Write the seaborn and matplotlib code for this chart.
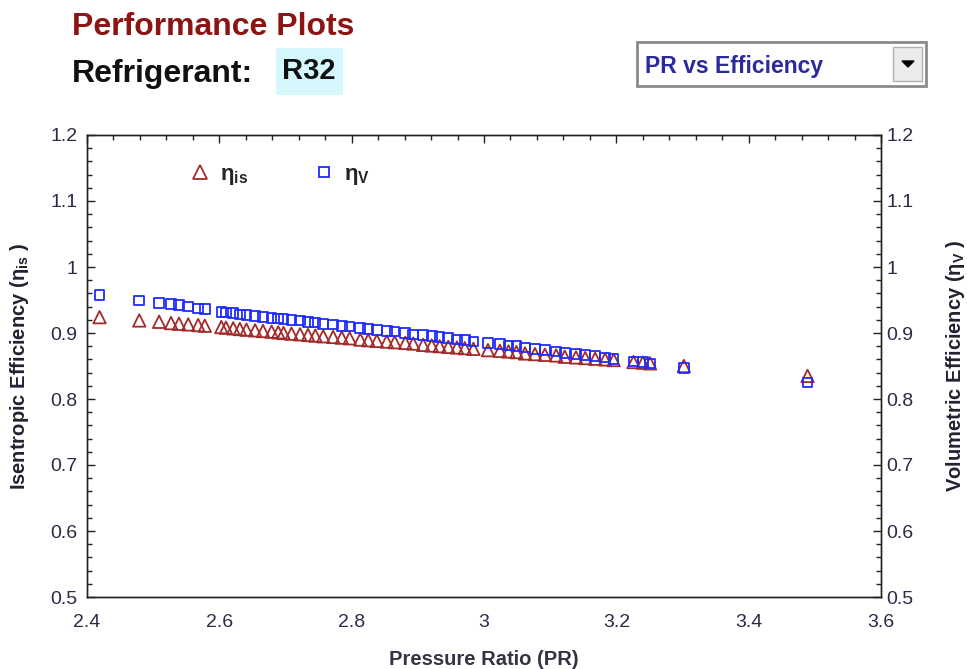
import matplotlib
matplotlib.use("Agg")
import matplotlib.pyplot as plt
from matplotlib.patches import Rectangle, Polygon
from matplotlib.ticker import MultipleLocator
from matplotlib.lines import Line2D
import pandas as pd
import seaborn as sns

# pressure ratio and efficiencies
pr = [2.419, 2.479, 2.509, 2.527, 2.539, 2.553, 2.568, 2.578, 2.603, 2.610,
      2.621, 2.631, 2.641, 2.654, 2.666, 2.679, 2.689, 2.697, 2.709, 2.722,
      2.734, 2.745, 2.757, 2.772, 2.785, 2.797, 2.813, 2.825, 2.838, 2.853,
      2.865, 2.881, 2.893, 2.908, 2.921, 2.933, 2.946, 2.959, 2.971, 2.984,
      3.006, 3.024, 3.037, 3.049, 3.062, 3.077, 3.092, 3.109, 3.122, 3.139,
      3.153, 3.168, 3.183, 3.196, 3.226, 3.240, 3.251, 3.302, 3.489]
eta_is = [0.924, 0.919, 0.917, 0.915, 0.914, 0.913, 0.912, 0.911, 0.909, 0.908,
          0.907, 0.906, 0.905, 0.904, 0.903, 0.902, 0.901, 0.900, 0.899, 0.898,
          0.897, 0.896, 0.895, 0.894, 0.893, 0.892, 0.890, 0.889, 0.888, 0.887,
          0.886, 0.885, 0.884, 0.882, 0.881, 0.880, 0.879, 0.878, 0.877, 0.876,
          0.874, 0.873, 0.872, 0.871, 0.869, 0.868, 0.867, 0.866, 0.864, 0.863,
          0.862, 0.861, 0.860, 0.859, 0.856, 0.855, 0.854, 0.850, 0.835]
eta_v = [0.958, 0.949, 0.945, 0.944, 0.942, 0.940, 0.937, 0.936, 0.932, 0.931,
         0.930, 0.928, 0.927, 0.926, 0.924, 0.923, 0.922, 0.921, 0.920, 0.919,
         0.917, 0.916, 0.914, 0.913, 0.911, 0.910, 0.908, 0.906, 0.905, 0.903,
         0.902, 0.900, 0.898, 0.897, 0.895, 0.894, 0.892, 0.890, 0.889, 0.887,
         0.885, 0.883, 0.881, 0.880, 0.878, 0.876, 0.874, 0.872, 0.870, 0.868,
         0.867, 0.865, 0.863, 0.861, 0.857, 0.856, 0.854, 0.847, 0.825]

df = pd.DataFrame({"PR": pr, "eta_is": eta_is, "eta_v": eta_v})

sns.set_style("white")
plt.rcParams["font.family"] = ["Liberation Sans", "DejaVu Sans"]
plt.rcParams["mathtext.default"] = "regular"

red = "#a32a2a"
blue = "#1f2bff"
tick_col = "#2b2b45"

fig = plt.figure(figsize=(9.67, 6.69), dpi=100)
ax = fig.add_axes([87 / 967, 1 - 597 / 669, 794 / 967, 462 / 669])

sns.scatterplot(data=df, x="PR", y="eta_is", marker="^", s=80, facecolor="none",
                edgecolor=red, linewidth=1.3, ax=ax, zorder=2)
sns.scatterplot(data=df, x="PR", y="eta_v", marker="s", s=48, facecolor="none",
                edgecolor=blue, linewidth=1.3, ax=ax, zorder=3)

ax.set_xlim(2.4, 3.6)
ax.set_ylim(0.5, 1.2)
ax.xaxis.set_major_locator(MultipleLocator(0.2))
ax.xaxis.set_minor_locator(MultipleLocator(0.04))
ax.yaxis.set_major_locator(MultipleLocator(0.1))
ax.yaxis.set_minor_locator(MultipleLocator(0.02))
ax.xaxis.set_major_formatter(lambda v, p: f"{v:g}")
ax.yaxis.set_major_formatter(lambda v, p: f"{v:g}")

ax2 = ax.twinx()
ax2.set_ylim(0.5, 1.2)
ax2.yaxis.set_major_locator(MultipleLocator(0.1))
ax2.yaxis.set_minor_locator(MultipleLocator(0.02))
ax2.yaxis.set_major_formatter(lambda v, p: f"{v:g}")

for a in (ax, ax2):
    for sp in a.spines.values():
        sp.set_color("#222222")
        sp.set_linewidth(1.0)
    a.tick_params(which="both", direction="in", colors="#222222", labelcolor=tick_col,
                  labelsize=14)
    a.tick_params(which="major", length=6, width=1.0)
    a.tick_params(which="minor", length=3.5, width=1.0)
ax.tick_params(which="both", top=True)
ax.tick_params(axis="x", which="major", pad=12)
ax.tick_params(axis="y", which="major", pad=7)
ax2.tick_params(which="both", left=False, right=True, labelright=True)
ax2.tick_params(axis="y", which="major", pad=4)

ax.set_xlabel("Pressure Ratio (PR)", fontsize=14.5, fontweight="bold", color="#333344",
              labelpad=14)
ax.set_ylabel("Isentropic Efficiency (η$_{is}$ )", fontsize=14.5, fontweight="bold",
              color="#222233", labelpad=14)
ax2.set_ylabel("Volumetric Efficiency (η$_{V}$ )", fontsize=14.5, fontweight="bold",
               color="#222233", labelpad=22)

handles = [Line2D([], [], ls="none", marker="^", markersize=10, mfc="none", mec=red, mew=1.3),
           Line2D([], [], ls="none", marker="s", markersize=7.5, mfc="none", mec=blue, mew=1.3)]
leg = ax.legend(handles, ["η$_{is}$", "η$_{V}$"], loc="center left",
                bbox_to_anchor=(0.103, 0.913), ncol=2, frameon=False, handlelength=1.0,
                handletextpad=0.4, columnspacing=2.9, prop={"weight": "bold", "size": 16})

# header
fig.text(72 / 967, 1 - 27 / 669, "Performance Plots", fontsize=23, fontweight="bold",
         color="#8b1414", va="center")
fig.text(72 / 967, 1 - 74 / 669, "Refrigerant:", fontsize=23, fontweight="bold",
         color="#111111", va="center")
fig.add_artist(Rectangle((276 / 967, 1 - 95 / 669), 67 / 967, 47 / 669,
                         transform=fig.transFigure, fc="#d4f8fb", ec="none"))
fig.text(309 / 967, 1 - 71 / 669, "R32", fontsize=21, fontweight="bold", color="#111111",
         ha="center", va="center")

# dropdown box
fig.add_artist(Rectangle((637 / 967, 1 - 86 / 669), 289 / 967, 44 / 669,
                         transform=fig.transFigure, fc="white", ec="#8a8a8a", lw=2))
fig.add_artist(Rectangle((893 / 967, 1 - 81 / 669), 29 / 967, 34 / 669,
                         transform=fig.transFigure, fc="#ececec", ec="#b0b0b0", lw=1))
fig.add_artist(Polygon([(902 / 967, 1 - 61 / 669), (914 / 967, 1 - 61 / 669),
                        (908 / 967, 1 - 67 / 669)], closed=True,
                       transform=fig.transFigure, fc="black", ec="black"))
fig.text(645 / 967, 1 - 66 / 669, "PR vs Efficiency", fontsize=16.5, fontweight="bold",
         color="#2a2a9c", va="center")

fig.savefig("out.png", dpi=100)
